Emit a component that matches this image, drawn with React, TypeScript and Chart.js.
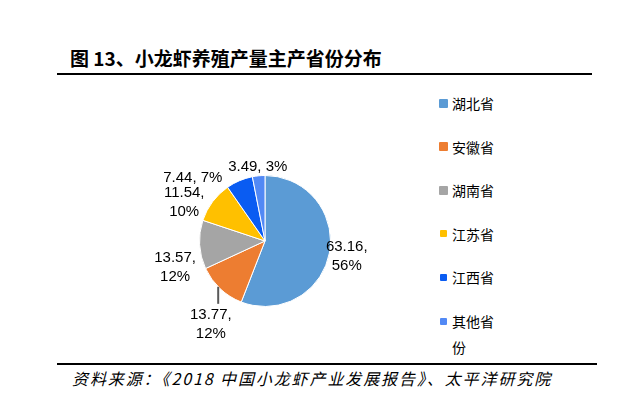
import React, { useEffect, useRef } from "react";
import { Chart, registerables } from "chart.js";

Chart.register(...registerables);

const categories = ["湖北省", "安徽省", "湖南省", "江苏省", "江西省", "其他省份"];
const values = [63.16, 13.77, 13.57, 11.54, 7.44, 3.49];
const colors = ["#5B9BD5", "#ED7D31", "#A5A5A5", "#FFC000", "#0A5CF2", "#5289F5"];
const titleText = "图 13、小龙虾养殖产量主产省份分布";
const sourceText = "资料来源：《2018 中国小龙虾产业发展报告》、太平洋研究院";

// label placement: [radius factor, angle shift in degrees, two-line?]
const labelPlace: [number, number, boolean][] = [
  [1.27, 0, true],
  [1.51, -10, true],
  [1.43, -13, true],
  [1.37, -11, true],
  [1.46, -26, false],
  [1.14, 0, false],
];

const labelPlugin = {
  id: "pieLabels",
  afterDatasetsDraw(chart: any) {
    const ctx = chart.ctx;
    const meta = chart.getDatasetMeta(0);
    const data = chart.data.datasets[0].data as number[];
    const total = data.reduce((a, b) => a + b, 0);
    ctx.save();
    ctx.font = '15px "Liberation Sans", Arial, sans-serif';
    ctx.fillStyle = "#000";
    ctx.textAlign = "center";
    ctx.textBaseline = "middle";
    meta.data.forEach((arc: any, i: number) => {
      const p = arc.getProps(["x", "y", "startAngle", "endAngle", "outerRadius"], true);
      const mid = (p.startAngle + p.endAngle) / 2;
      const [f, shift, two] = labelPlace[i];
      const a = mid + (shift * Math.PI) / 180;
      const cx = p.x + Math.cos(a) * p.outerRadius * f;
      const cy = p.y + Math.sin(a) * p.outerRadius * f;
      const v = data[i].toFixed(2);
      const pct = Math.round((data[i] / total) * 100) + "%";
      if (two) {
        ctx.fillText(v + ",", cx, cy - 9);
        ctx.fillText(pct, cx, cy + 10);
      } else {
        ctx.fillText(v + ", " + pct, cx, cy);
      }
      if (i === 1) {
        const la = mid + (2.4 * Math.PI) / 180;
        const sx = p.x + Math.cos(la) * p.outerRadius;
        const sy = p.y + Math.sin(la) * p.outerRadius;
        ctx.strokeStyle = "#595959";
        ctx.lineWidth = 2;
        ctx.beginPath();
        ctx.moveTo(sx, sy);
        ctx.lineTo(sx, sy + 17);
        ctx.stroke();
      }
    });
    ctx.restore();
  },
};

export default function App() {
  const ref = useRef<HTMLCanvasElement>(null);
  useEffect(() => {
    if (!ref.current) return;
    const chart = new Chart(ref.current, {
      type: "pie",
      data: {
        labels: categories,
        datasets: [
          {
            data: values,
            backgroundColor: colors,
            borderColor: "#fff",
            borderWidth: 1,
          },
        ],
      },
      options: {
        animation: false,
        responsive: false,
        maintainAspectRatio: false,
        layout: { padding: { left: 59, right: 59, top: 35, bottom: 43 } },
        plugins: { legend: { display: false }, tooltip: { enabled: false } },
      },
      plugins: [labelPlugin],
    });
    return () => chart.destroy();
  }, []);

  return (
    <div
      style={{
        position: "relative",
        width: 612,
        height: 382,
        background: "#fff",
        fontFamily: '"Noto Sans CJK SC", sans-serif',
      }}
    >
      <div
        style={{
          position: "absolute",
          left: 62,
          top: 38,
          fontSize: 19,
          lineHeight: "24px",
          fontWeight: "bold",
          whiteSpace: "nowrap",
          color: "#000",
        }}
      >
        {titleText}
      </div>
      <div style={{ position: "absolute", left: 49, top: 65, width: 535, height: 1.5, background: "#000" }} />
      <canvas
        ref={ref}
        width={250}
        height={210}
        style={{ position: "absolute", left: 132, top: 132, width: 250, height: 210 }}
      />
      {categories.map((c, i) => {
        const cy = 95 + i * 43.6;
        const ms = i < 3 ? 9 : 7;
        return (
          <React.Fragment key={c}>
            <div
              style={{
                position: "absolute",
                left: 431 + (9 - ms) / 2,
                top: cy - ms / 2,
                width: ms,
                height: ms,
                background: colors[i],
                borderRadius: 1,
              }}
            />
            <div
              style={{
                position: "absolute",
                left: 444,
                top: cy - 13,
                width: 44,
                fontSize: 14,
                lineHeight: "26px",
                color: "#000",
              }}
            >
              {c}
            </div>
          </React.Fragment>
        );
      })}
      <div style={{ position: "absolute", left: 49, top: 355, width: 540, height: 1.5, background: "#000" }} />
      <div
        style={{
          position: "absolute",
          left: 64,
          top: 359,
          fontSize: 16,
          lineHeight: "22px",
          fontStyle: "italic",
          letterSpacing: "1.9px",
          whiteSpace: "nowrap",
          color: "#000",
        }}
      >
        {sourceText}
      </div>
    </div>
  );
}
